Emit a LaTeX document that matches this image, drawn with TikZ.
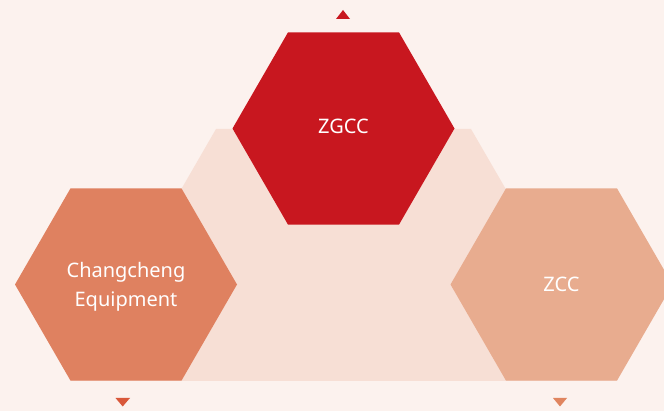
\documentclass[tikz,border=0pt]{standalone}
\usepackage{fontspec}
\setmainfont{Noto Sans}
\usetikzlibrary{shapes.geometric}
\definecolor{bgc}{HTML}{FCF2EE}
\definecolor{trapc}{HTML}{F7DFD5}
\definecolor{redc}{HTML}{C8171F}
\definecolor{orangec}{HTML}{DF8160}
\definecolor{salmonc}{HTML}{E8AC8F}
\definecolor{triorange}{HTML}{D9583A}
\definecolor{trisalmon}{HTML}{E0855F}
\tikzset{
  hexa/.style={regular polygon, regular polygon sides=6, minimum size=222pt,
    inner sep=0pt, outer sep=0pt, draw=none},
  lbl/.style={text=white, font=\fontsize{20}{29}\selectfont, align=center, inner sep=0pt},
}
\begin{document}
\begin{tikzpicture}[x=1pt,y=-1pt]
\useasboundingbox (0,0) rectangle (664,411);
\fill[bgc] (0,0) rectangle (664,411);
\clip (0,0) rectangle (664,411);
% trapezoid
\fill[trapc] (216,129) -- (471,129) -- (617,381) -- (70.5,381) -- cycle;
% hexagons
\node[hexa, fill=redc] (zgcc) at (343.5,128.5) {};
\node[hexa, fill=orangec] (cce) at (126,284.5) {};
\node[hexa, fill=salmonc] (zcc) at (561.5,284.5) {};
\node[lbl] (zgcct) at (343.5,126.5) {ZGCC};
\node[lbl] (ccet) at (126,287) {Changcheng\\Equipment};
\node[lbl] (zcct) at (561.5,284.5) {ZCC};
% triangles
\fill[redc] (336,19) -- (350,19) -- (343,10) -- cycle;
\fill[triorange] (115.5,398) -- (130,398) -- (122.7,406.5) -- cycle;
\fill[trisalmon] (553,398) -- (567,398) -- (560,406.5) -- cycle;
\end{tikzpicture}
\end{document}
